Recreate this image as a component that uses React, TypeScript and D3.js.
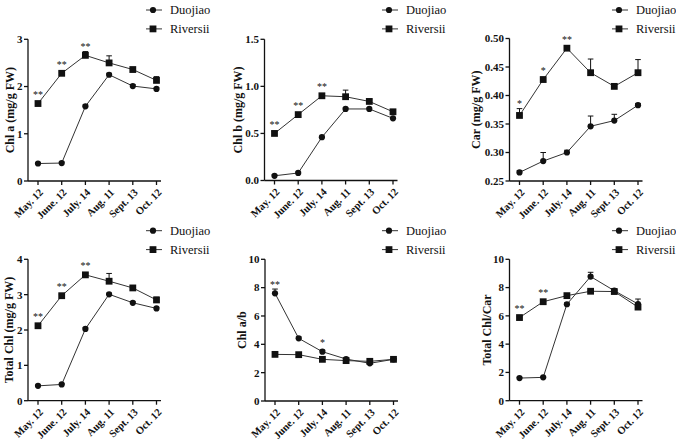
import React from "react";
import * as d3 from "d3";

const months = ["May. 12", "June. 12", "July. 14", "Aug. 11", "Sept. 13", "Oct. 12"];
const seriesNames = ["Duojiao", "Riversii"];

// Chl a
const chlaDuo = [0.37, 0.38, 1.58, 2.25, 2.01, 1.95];
const chlaDuoErr = [0.02, 0.02, 0.03, 0.03, 0.03, 0.02];
const chlaRiv = [1.64, 2.28, 2.66, 2.5, 2.36, 2.13];
const chlaRivErr = [0.03, 0.03, 0.08, 0.15, 0.04, 0.08];
const chlaStars = ["**", "**", "**", "", "", ""];
const chlaTicks = [0, 1, 2, 3];

// Chl b
const chlbDuo = [0.05, 0.08, 0.46, 0.76, 0.76, 0.66];
const chlbDuoErr = [0.01, 0.01, 0.01, 0.01, 0.01, 0.01];
const chlbRiv = [0.5, 0.7, 0.9, 0.89, 0.84, 0.73];
const chlbRivErr = [0.02, 0.02, 0.02, 0.07, 0.02, 0.02];
const chlbStars = ["**", "**", "**", "", "", ""];
const chlbTicks = [0, 0.5, 1.0, 1.5];

// Car
const carDuo = [0.265, 0.285, 0.3, 0.346, 0.356, 0.383];
const carDuoErr = [0.003, 0.015, 0.004, 0.018, 0.011, 0.003];
const carRiv = [0.365, 0.428, 0.483, 0.44, 0.416, 0.44];
const carRivErr = [0.012, 0.004, 0.004, 0.024, 0.005, 0.023];
const carStars = ["*", "*", "**", "", "", ""];
const carTicks = [0.25, 0.3, 0.35, 0.4, 0.45, 0.5];

// Total Chl
const totDuo = [0.42, 0.46, 2.03, 3.01, 2.77, 2.61];
const totDuoErr = [0.02, 0.02, 0.03, 0.03, 0.03, 0.03];
const totRiv = [2.12, 2.97, 3.56, 3.38, 3.19, 2.85];
const totRivErr = [0.03, 0.03, 0.05, 0.22, 0.03, 0.08];
const totStars = ["**", "**", "**", "", "", ""];
const totTicks = [0, 1, 2, 3, 4];

// Chl a/b
const abDuo = [7.6, 4.42, 3.48, 2.96, 2.66, 2.94];
const abDuoErr = [0.3, 0.1, 0.1, 0.05, 0.05, 0.05];
const abRiv = [3.29, 3.27, 2.94, 2.85, 2.8, 2.94];
const abRivErr = [0.05, 0.05, 0.05, 0.05, 0.05, 0.05];
const abStars = ["**", "", "*", "", "", ""];
const abTicks = [0, 2, 4, 6, 8, 10];

// Total Chl/Car
const ratioDuo = [1.6, 1.65, 6.82, 8.78, 7.78, 6.84];
const ratioDuoErr = [0.05, 0.05, 0.1, 0.3, 0.1, 0.35];
const ratioRiv = [5.88, 7.0, 7.43, 7.74, 7.72, 6.62];
const ratioRivErr = [0.05, 0.05, 0.05, 0.05, 0.05, 0.05];
const ratioStars = ["**", "**", "", "", "", ""];
const ratioTicks = [0, 2, 4, 6, 8, 10];

const panels = [
  { title: "Chl a (mg/g FW)", duo: chlaDuo, duoErr: chlaDuoErr, riv: chlaRiv, rivErr: chlaRivErr, stars: chlaStars, ticks: chlaTicks, fmt: "d" },
  { title: "Chl b (mg/g FW)", duo: chlbDuo, duoErr: chlbDuoErr, riv: chlbRiv, rivErr: chlbRivErr, stars: chlbStars, ticks: chlbTicks, fmt: ".1f" },
  { title: "Car (mg/g FW)", duo: carDuo, duoErr: carDuoErr, riv: carRiv, rivErr: carRivErr, stars: carStars, ticks: carTicks, fmt: ".2f" },
  { title: "Total Chl (mg/g FW)", duo: totDuo, duoErr: totDuoErr, riv: totRiv, rivErr: totRivErr, stars: totStars, ticks: totTicks, fmt: "d" },
  { title: "Chl a/b", duo: abDuo, duoErr: abDuoErr, riv: abRiv, rivErr: abRivErr, stars: abStars, ticks: abTicks, fmt: "d" },
  { title: "Total Chl/Car", duo: ratioDuo, duoErr: ratioDuoErr, riv: ratioRiv, rivErr: ratioRivErr, stars: ratioStars, ticks: ratioTicks, fmt: "d" },
];

// layout (positions only)
const layout = [
  { x0: 28, top: 39.3, bottom: 181, titleX: 10, legX: 146, legY: 10 },
  { x0: 264.5, top: 39.3, bottom: 180.5, titleX: 238, legX: 382, legY: 10 },
  { x0: 509.5, top: 38.5, bottom: 181, titleX: 475.5, legX: 612, legY: 10 },
  { x0: 28, top: 259.3, bottom: 400.7, titleX: 8.5, legX: 146, legY: 230.7 },
  { x0: 265, top: 259.3, bottom: 401, titleX: 242, legX: 382, legY: 230.7 },
  { x0: 509.5, top: 259.3, bottom: 400.7, titleX: 487, legX: 612, legY: 230.7 },
];

const FONT = "'Liberation Serif', 'Times New Roman', Times, serif";
const INK = "#111";

function Marker({ kind, x, y }: { kind: string; x: number; y: number }) {
  if (kind === "circle") return <circle cx={x} cy={y} r={3.1} fill={INK} />;
  return <rect x={x - 3.4} y={y - 3.4} width={6.8} height={6.8} fill={INK} />;
}

function Panel({ p, l }: { p: any; l: any }) {
  const x = d3.scalePoint<string>().domain(months).range([l.x0 + 10, l.x0 + 128.5]);
  const ext = d3.extent(p.ticks as number[]) as [number, number];
  const y = d3.scaleLinear().domain(ext).range([l.bottom, l.top]);
  const fmt = d3.format(p.fmt);
  const line = d3
    .line<number>()
    .x((_, i) => x(months[i])!)
    .y((d) => y(d));
  const series = [
    { vals: p.duo, err: p.duoErr, kind: "circle" },
    { vals: p.riv, err: p.rivErr, kind: "square" },
  ];
  const xEnd = l.x0 + 133;
  return (
    <g>
      <line x1={l.x0} x2={l.x0} y1={l.top} y2={l.bottom} stroke={INK} strokeWidth={1.3} />
      <line x1={l.x0} x2={xEnd} y1={l.bottom} y2={l.bottom} stroke={INK} strokeWidth={1.3} />
      {(p.ticks as number[]).map((t) => (
        <g key={"yt" + t}>
          <line x1={l.x0 - 4} x2={l.x0} y1={y(t)} y2={y(t)} stroke={INK} strokeWidth={1.3} />
          <text x={l.x0 - 5.5} y={y(t)} dy="0.35em" textAnchor="end" fontFamily={FONT} fontWeight="bold" fontSize={11} fill={INK}>
            {fmt(t)}
          </text>
        </g>
      ))}
      {months.map((m) => (
        <g key={"xt" + m}>
          <line x1={x(m)} x2={x(m)} y1={l.bottom} y2={l.bottom + 4} stroke={INK} strokeWidth={1.3} />
          <text
            transform={`translate(${x(m)! + 3},${l.bottom + 9.5}) rotate(-45)`}
            textAnchor="end"
            dy="0.35em"
            fontFamily={FONT}
            fontWeight="bold"
            fontSize={10.5}
            fill={INK}
          >
            {m}
          </text>
        </g>
      ))}
      <text
        transform={`translate(${l.titleX},${(l.top + l.bottom) / 2}) rotate(-90)`}
        textAnchor="middle"
        dy="0.35em"
        fontFamily={FONT}
        fontWeight="bold"
        fontSize={12}
        fill={INK}
      >
        {p.title}
      </text>
      {series.map((s, si) => (
        <g key={"s" + si}>
          <path d={line(s.vals)!} fill="none" stroke="#333" strokeWidth={1} />
          {(s.vals as number[]).map((v, i) => {
            const cx = x(months[i])!;
            const yt = y(v + s.err[i]);
            return (
              <g key={i}>
                <line x1={cx} x2={cx} y1={y(v)} y2={yt} stroke={INK} strokeWidth={1} />
                <line x1={cx - 2.8} x2={cx + 2.8} y1={yt} y2={yt} stroke={INK} strokeWidth={1} />
                <Marker kind={s.kind} x={cx} y={y(v)} />
              </g>
            );
          })}
        </g>
      ))}
      {(p.stars as string[]).map((st, i) => {
        if (!st) return null;
        const cx = x(months[i])!;
        const tops = series.map((s) => Math.min(y(s.vals[i] + s.err[i]) - 6, y(s.vals[i]) - 10));
        const cy = Math.min(...tops);
        return (
          <text key={"st" + i} x={cx} y={cy + 4.6} textAnchor="middle" fontFamily={FONT} fontSize={10} fill={INK}>
            {st}
          </text>
        );
      })}
      {seriesNames.map((n, i) => {
        const ly = l.legY + i * 18.9;
        return (
          <g key={"lg" + n}>
            <line x1={l.legX} x2={l.legX + 16} y1={ly} y2={ly} stroke="#333" strokeWidth={1} />
            <Marker kind={i === 0 ? "circle" : "square"} x={l.legX + 7} y={ly} />
            <text x={l.legX + 24} y={ly} dy="0.35em" fontFamily={FONT} fontSize={12.5} fill={INK}>
              {n}
            </text>
          </g>
        );
      })}
    </g>
  );
}

export default function App() {
  return (
    <svg width={676} height={442} style={{ position: "absolute", left: 0, top: 0, background: "#fff" }}>
      <rect width={676} height={442} fill="#fff" />
      {panels.map((p, i) => (
        <Panel key={i} p={p} l={layout[i]} />
      ))}
    </svg>
  );
}
